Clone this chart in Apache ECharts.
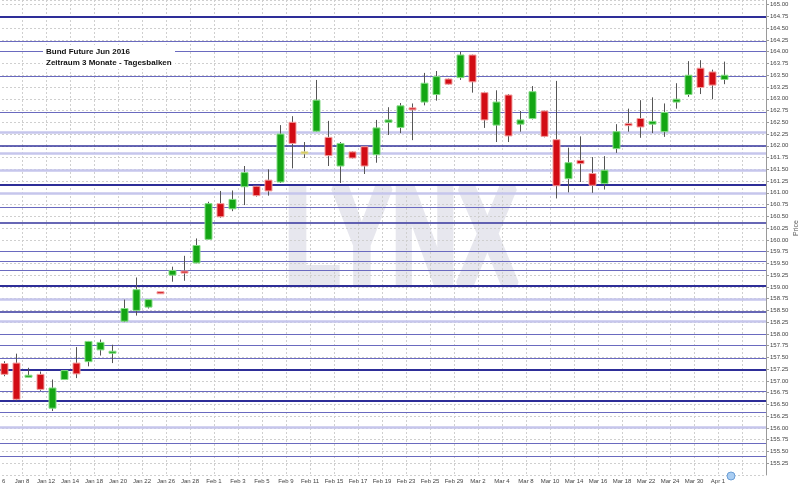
<!DOCTYPE html>
<html><head><meta charset="utf-8">
<script src="https://cdn.jsdelivr.net/npm/echarts@6/dist/echarts.min.js"></script>
<style>html,body{margin:0;padding:0;background:#fff}#c{width:800px;height:486px}</style>
</head><body><div id="c"></div>
<script>
// Trading days (3 blank future slots at the right edge of the axis)
const dates = ['Jan 6','Jan 7','Jan 8','Jan 11','Jan 12','Jan 13','Jan 14','Jan 15','Jan 18','Jan 19','Jan 20','Jan 21','Jan 22','Jan 25','Jan 26','Jan 27','Jan 28','Jan 29',
'Feb 1','Feb 2','Feb 3','Feb 4','Feb 5','Feb 8','Feb 9','Feb 10','Feb 11','Feb 12','Feb 15','Feb 16','Feb 17','Feb 18','Feb 19','Feb 22','Feb 23','Feb 24','Feb 25','Feb 26','Feb 29',
'Mar 1','Mar 2','Mar 3','Mar 4','Mar 7','Mar 8','Mar 9','Mar 10','Mar 11','Mar 14','Mar 15','Mar 16','Mar 17','Mar 18','Mar 21','Mar 22','Mar 23','Mar 24','Mar 29','Mar 30','Mar 31',
'Apr 1','','',''];

const open = [157.37,157.38,157.09,157.14,156.42,157.03,157.38,157.41,157.66,157.60,
158.27,158.50,158.57,158.89,159.25,159.33,159.51,160.01,160.77,160.66,
161.13,161.14,161.27,161.23,162.50,161.85,162.31,162.18,161.57,161.87,
161.98,161.81,162.50,162.39,162.80,162.93,163.09,163.42,163.45,163.93,
163.13,162.44,163.08,162.46,162.58,162.74,162.13,161.30,161.69,161.41,
161.20,161.94,162.46,162.58,162.46,162.30,162.93,163.09,163.65,163.57,163.41];
const close = [157.14,156.61,157.11,156.82,156.85,157.22,157.15,157.84,157.82,157.62,
158.54,158.94,158.73,158.86,159.35,159.30,159.88,160.77,160.49,160.86,
161.43,160.94,161.04,162.25,162.05,161.85,162.97,161.79,162.05,161.74,
161.57,162.38,162.55,162.85,162.77,163.33,163.47,163.31,163.93,163.36,
162.55,162.93,162.21,162.55,163.15,162.20,161.15,161.64,161.62,161.16,
161.48,162.30,162.44,162.40,162.52,162.71,162.99,163.50,163.24,163.29,163.50];
const high = [157.42,157.58,157.28,157.20,157.03,157.23,157.72,157.85,157.88,157.77,
158.73,159.20,158.74,158.89,159.43,159.66,160.03,160.81,161.04,161.05,
161.57,161.15,161.50,162.44,162.63,162.08,163.40,162.53,162.08,161.88,
161.99,162.55,162.82,162.91,162.90,163.55,163.59,163.43,164.00,163.94,
163.15,163.18,163.10,162.74,163.27,162.75,163.38,161.96,162.20,161.76,
161.78,162.46,162.79,162.97,163.03,162.90,163.33,163.80,163.82,163.62,163.79];
const low = [157.10,156.58,157.08,156.79,156.36,157.02,157.06,157.31,157.54,157.38,
158.25,158.39,158.54,158.85,159.11,159.13,159.50,160.00,160.47,160.61,
160.74,160.92,160.94,161.21,161.52,161.74,162.30,161.57,161.21,161.73,
161.40,161.64,162.23,162.27,162.12,162.86,162.96,163.30,163.40,163.13,
162.38,162.08,162.08,162.30,162.56,162.18,160.88,161.01,161.23,161.00,
161.07,161.85,162.30,162.17,162.27,162.19,162.79,163.04,163.10,162.99,163.31];

// Horizontal price levels
const levelsNavyThick = [164.75, 161.18, 159.03, 157.24, 156.57];
const levelsNavy = [162.00, 160.37, 158.48];
const levelsMid = [164.23, 164.00, 163.48, 162.71, 160.69, 159.75, 159.54, 159.35, 158.00, 157.75, 157.49, 156.78, 156.34, 155.68, 155.40];
const levelsLight = [162.29, 161.84, 161.49, 161.00, 158.73, 158.26, 156.01];

const yTicks = {min: 155, max: 165.1, step: 0.25};
const titleLines = ['Bund Future Jun 2016', 'Zeitraum 3 Monate - Tagesbalken'];

const candleData = open.map((o, i) => [i, o, close[i], low[i], high[i]]);

function levelSeries(vals, color, width) {
  return {
    type: 'line', data: [], silent: true, z: 1,
    markLine: {
      silent: true, symbol: ['none', 'none'], animation: false,
      label: {show: false},
      lineStyle: {color: color, width: width, type: 'solid'},
      data: vals.map(v => ({yAxis: v}))
    }
  };
}

const chart = echarts.init(document.getElementById('c'), null, {renderer: 'canvas'});
const FONT = '"Liberation Sans", Arial, sans-serif';
chart.setOption({
  animation: false,
  backgroundColor: '#ffffff',
  grid: {left: -2, right: 34, top: 0, bottom: 11, containLabel: false, outerBoundsMode: 'none'},
  xAxis: {
    type: 'category', data: dates, boundaryGap: true,
    axisLine: {show: false}, axisTick: {show: false, interval: 1},
    axisLabel: {interval: 1, fontSize: 6, color: '#444', margin: 3, fontFamily: FONT, padding: [0, 12, 0, 0]},
    splitLine: {show: true, interval: 1, lineStyle: {color: '#cfcfcf', type: [2, 2], width: 1}}
  },
  yAxis: {
    type: 'value', position: 'right', min: yTicks.min, max: yTicks.max, interval: yTicks.step, scale: true,
    axisLine: {show: true, lineStyle: {color: '#9a9a9a'}},
    axisTick: {show: true, length: 3, lineStyle: {color: '#9a9a9a'}},
    axisLabel: {fontSize: 6, color: '#444', margin: 4, fontFamily: FONT, showMinLabel: false, showMaxLabel: false,
      formatter: v => v.toFixed(2)},
    splitLine: {show: true, lineStyle: {color: '#cfcfcf', type: [2, 2], width: 1}}
  },
  series: [
    levelSeries(levelsLight, '#c6c6ec', 2.5),
    levelSeries(levelsMid, '#6a6abf', 1),
    levelSeries(levelsNavy, '#34349c', 1.5),
    levelSeries(levelsNavyThick, '#2e2e98', 2),
    {
      type: 'custom', z: 5, data: candleData,
      encode: {x: 0, y: [1, 2, 3, 4]},
      renderItem: function (params, api) {
        const i = api.value(0), o = api.value(1), c = api.value(2), l = api.value(3), h = api.value(4);
        const pO = api.coord([i, o]), pC = api.coord([i, c]), pL = api.coord([i, l]), pH = api.coord([i, h]);
        const x = Math.round(pO[0]);
        let top = Math.min(pO[1], pC[1]), bot = Math.max(pO[1], pC[1]);
        if (bot - top < 2) { const m = (top + bot) / 2; top = m - 1; bot = m + 1; }
        const flat = c === o, up = c > o;
        const fill = flat ? '#cdbf45' : (up ? '#14a614' : '#d20c14');
        const stroke = flat ? '#e3dc9a' : (up ? '#86dc86' : '#f2a0a0');
        return {type: 'group', children: [
          {type: 'line', shape: {x1: x + 0.5, y1: pH[1], x2: x + 0.5, y2: pL[1]}, style: {stroke: '#555', lineWidth: 1}},
          {type: 'rect', shape: {x: x - 3, y: top, width: 7, height: bot - top}, style: {fill: fill, stroke: stroke, lineWidth: 1}}
        ]};
      }
    }
  ],
  graphic: [
    {type: 'text', z: -10, x: 285, y: 245, scaleX: 0.645, silent: true,
      style: {text: 'LYNX', fontSize: 140, fontWeight: 'bold', fontFamily: FONT, fill: '#e7e7ee', stroke: '#e7e7ee', lineWidth: 7, align: 'left', verticalAlign: 'middle'}},
    {type: 'rect', z: 100, shape: {x: 43, y: 45, width: 132, height: 24}, style: {fill: '#ffffff'}},
    {type: 'text', z: 101, x: 46, y: 51.7, style: {text: titleLines[0], fontSize: 8, fontWeight: 'bold', fontFamily: FONT, fill: '#111', align: 'left', verticalAlign: 'middle'}},
    {type: 'text', z: 101, x: 46, y: 62.3, style: {text: titleLines[1], fontSize: 8, fontWeight: 'bold', fontFamily: FONT, fill: '#111', align: 'left', verticalAlign: 'middle'}},
    {type: 'text', z: 101, x: 796, y: 228, rotation: Math.PI / 2, style: {text: 'Price', fontSize: 7, fontFamily: FONT, fill: '#555', align: 'center', verticalAlign: 'middle'}},
    {type: 'circle', z: 101, shape: {cx: 731, cy: 476, r: 4}, style: {fill: '#a9cdf2', stroke: '#6c9fd6', lineWidth: 1}}
  ]
});
</script>
</body></html>
